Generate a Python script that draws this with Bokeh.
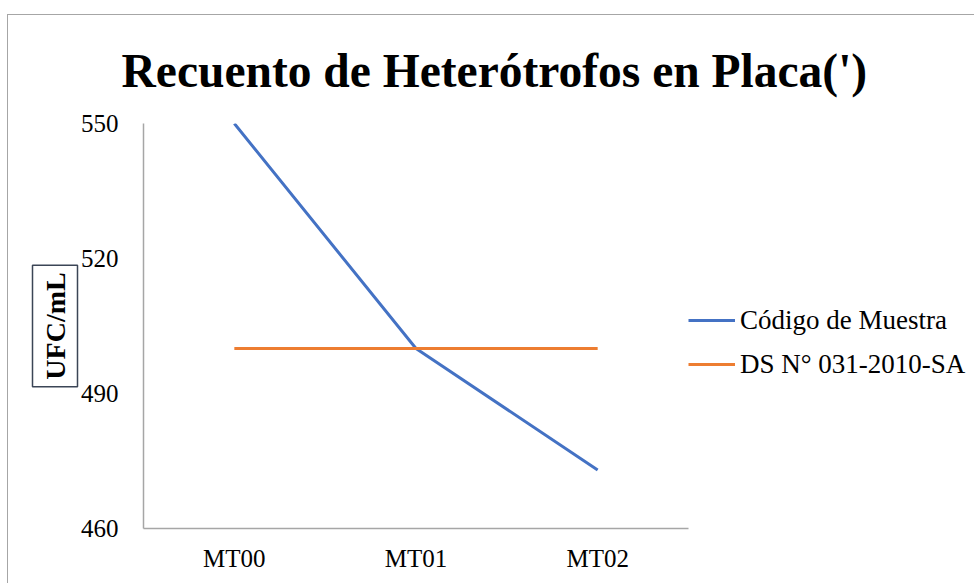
from bokeh.plotting import figure
from bokeh.models import (FactorRange, Range1d, FixedTicker, Legend,
                          LegendItem, Title, InlineStyleSheet)
from bokeh.embed import file_html
from bokeh.resources import INLINE

categories = ["MT00", "MT01", "MT02"]
muestra = [550, 500, 473]
norma = [500, 500, 500]
y_ticks = [460, 490, 520, 550]
title_text = "Recuento de Heterótrofos en Placa(')"
y_label = "UFC/mL"
series_names = ["Código de Muestra", "DS N° 031-2010-SA"]

FONT = "Liberation Serif"

p = figure(x_range=FactorRange(*categories), y_range=Range1d(460, 550),
           width=974, height=583, output_backend="svg", toolbar_location=None,
           min_border_left=143, min_border_right=286, min_border_top=123,
           min_border_bottom=55)
p.frame_width = 545
p.frame_height = 405
p.outline_line_color = None
p.xgrid.grid_line_color = None
p.ygrid.grid_line_color = None
p.background_fill_color = "white"
p.border_fill_color = "white"

r1 = p.line(categories, muestra, line_color="#4472C4", line_width=3)
r2 = p.line(categories, norma, line_color="#ED7D31", line_width=3)

p.yaxis.ticker = FixedTicker(ticks=y_ticks)
for ax in (p.xaxis, p.yaxis):
    ax.axis_line_color = "#a6a6a6"
    ax.axis_line_width = 1.5
    ax.major_tick_line_color = None
    ax.minor_tick_line_color = None
    ax.major_label_text_font = FONT
    ax.major_label_text_font_size = "25px"
    ax.major_label_text_color = "#000000"
p.yaxis.major_label_standoff = 19
p.xaxis.major_label_standoff = 10

p.title = Title(text=title_text, align="left", offset=-22, standoff=53,
                text_font=FONT, text_font_size="47.5px",
                text_font_style="bold", text_color="#000000")

ytitle = Title(text=y_label, align="center", standoff=0,
               text_font=FONT, text_font_size="28px",
               text_font_style="bold", text_color="#000000",
               border_line_color="#3B4556", border_line_width=1.5,
               padding=7)
p.add_layout(ytitle, "left")
# empty outer panel that absorbs the spare border width
p.add_layout(Title(text=" ", text_font_size="1px", standoff=0), "left")

legend = Legend(items=[LegendItem(label=series_names[0], renderers=[r1]),
                       LegendItem(label=series_names[1], renderers=[r2])],
                location=(0, 142), orientation="vertical",
                glyph_width=47, glyph_height=44, label_height=44, spacing=0,
                label_standoff=5, padding=0, margin=0,
                border_line_color=None, background_fill_alpha=0,
                label_text_font=FONT, label_text_font_size="27px",
                label_text_color="#000000")
p.add_layout(legend, "right")

p.stylesheets = [InlineStyleSheet(css=(
    ":host::after { content: ''; position: absolute; left: 7px; top: 14px;"
    " right: 0; bottom: 0; border-left: 1.5px solid #a6a6a6;"
    " border-top: 1.5px solid #a6a6a6; pointer-events: none; }"))]

open("out.html", "w").write(file_html(p, INLINE))
